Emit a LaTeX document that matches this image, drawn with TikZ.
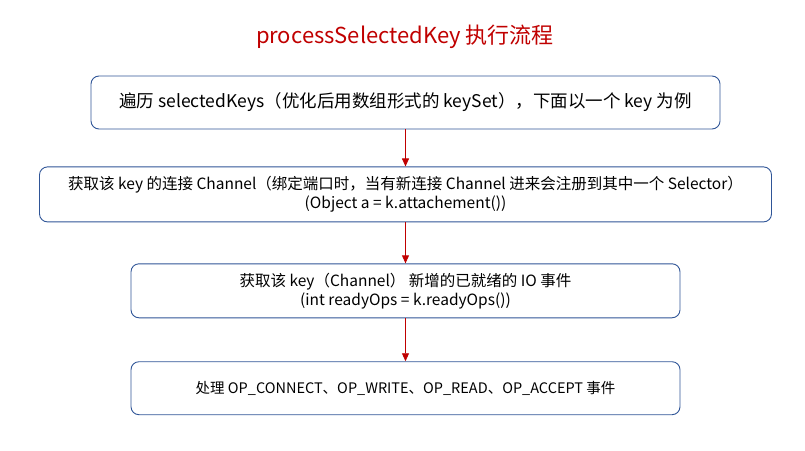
\documentclass[tikz,border=0pt]{standalone}
\usepackage{fontspec}
\setmainfont{Noto Sans CJK SC}
\usetikzlibrary{positioning, arrows.meta}
\definecolor{titlered}{HTML}{C00000}
\definecolor{boxblue}{HTML}{2F5597}

\begin{document}
\begin{tikzpicture}[
    >=Stealth,
    node distance=37pt,
    stepbox/.style={rectangle, draw=boxblue, line width=0.9pt, rounded corners=8pt,
                    minimum height=54pt, align=center, inner sep=0pt},
    arrow/.style={-{Triangle[length=8pt, width=7pt]}, draw=titlered, fill=titlered, line width=0.9pt}
]
  \useasboundingbox (0pt,0pt) rectangle (805pt,-450pt);

  % Title
  \node[text=titlered, font=\fontsize{22pt}{26pt}\selectfont] (title) at (405pt,-37pt)
    {processSelectedKey 执行流程};

  % Steps
  \node[stepbox, minimum width=629pt, minimum height=53pt, font=\fontsize{17.5pt}{21pt}\selectfont]
    (iter) at (405.5pt,-102.5pt)
    {遍历 selectedKeys（优化后用数组形式的 keySet），下面以一个 key 为例};

  \node[stepbox, minimum width=732pt, minimum height=55pt, font=\fontsize{15.5pt}{19pt}\selectfont,
        below=37pt of iter] (chan)
    {获取该 key 的连接 Channel（绑定端口时，当有新连接 Channel 进来会注册到其中一个 Selector）\\(Object a = k.attachement())};

  \node[stepbox, minimum width=549pt, font=\fontsize{15.5pt}{19pt}\selectfont,
        below=41pt of chan] (ops)
    {获取该 key（Channel） 新增的已就绪的 IO 事件\\(int readyOps = k.readyOps())};

  \node[stepbox, minimum width=549pt, minimum height=53pt, font=\fontsize{14.5pt}{18pt}\selectfont,
        below=43pt of ops] (handle)
    {处理 OP\_CONNECT、OP\_WRITE、OP\_READ、OP\_ACCEPT 事件};

  % Arrows
  \draw[arrow] (iter) -- (chan);
  \draw[arrow] (chan) -- (ops);
  \draw[arrow] (ops) -- (handle);
\end{tikzpicture}
\end{document}
